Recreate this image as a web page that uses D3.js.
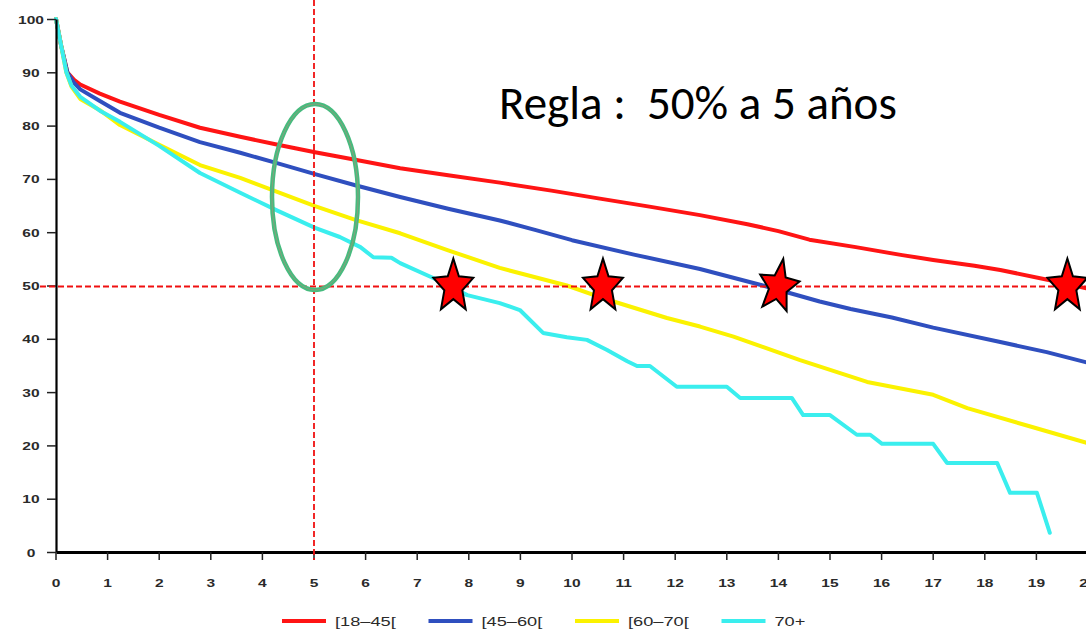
<!DOCTYPE html>
<html>
<head>
<meta charset="utf-8">
<script src="https://cdn.jsdelivr.net/npm/d3@7"></script>
<style>
  html, body { margin: 0; padding: 0; background: #fff; }
  svg { display: block; }
</style>
</head>
<body>
<svg id="chart" width="1086" height="633"></svg>
<script>
// Survival (%) by years since diagnosis, one curve per age group: [year, percent]
const group18_45 = [
  [0,100],[0.1,95],[0.22,90],[0.35,88.6],[0.47,87.7],[0.85,86.0],[1.24,84.5],[2.0,82.0],
  [2.79,79.6],[3.57,77.9],[4.3,76.4],[5.02,75.0],[5.8,73.6],[6.67,72.0],[7.6,70.7],
  [8.6,69.3],[9.6,67.8],[10.54,66.3],[11.5,64.8],[12.48,63.2],[13.4,61.5],[14.0,60.2],
  [14.6,58.6],[15.5,57.2],[16.4,55.7],[17.0,54.8],[17.8,53.7],[18.3,52.9],[19.26,51.0],[20.0,49.4]
];
const group45_60 = [
  [0,100],[0.1,95],[0.22,90],[0.35,88],[0.47,86.8],[0.85,84.6],[1.24,82.4],[2.0,79.6],
  [2.79,76.9],[3.57,74.9],[4.3,72.9],[5.02,70.9],[5.8,68.8],[6.67,66.6],[7.6,64.4],
  [8.6,62.2],[9.3,60.4],[10.0,58.5],[11.2,55.8],[12.48,53.1],[13.7,50.0],[14.8,47.0],
  [15.4,45.6],[16.2,44.0],[17.0,42.1],[18.3,39.4],[19.2,37.5],[20.0,35.5]
];
const group60_70 = [
  [0,100],[0.1,95],[0.2,90],[0.3,87.3],[0.47,85.0],[0.85,82.9],[1.24,80.1],[2.0,76.4],
  [2.79,72.6],[3.57,70.2],[4.3,67.5],[5.02,64.9],[5.8,62.3],[6.67,59.8],[7.6,56.6],
  [8.6,53.3],[9.9,50.0],[10.54,47.8],[11.84,43.9],[12.48,42.3],[13.13,40.4],[14.42,36.0],
  [15.72,31.9],[17.0,29.5],[17.66,27.0],[18.9,23.5],[20.0,20.4]
];
const group70plus = [
  [0,100],[0.1,95],[0.2,90],[0.3,87.5],[0.47,85.4],[0.85,82.8],[1.24,80.7],[2.0,76.2],
  [2.79,71.1],[3.57,67.4],[4.3,64.0],[5.02,60.8],[5.5,59.1],[5.9,57.2],[6.15,55.3],
  [6.5,55.2],[6.67,54.2],[7.31,51.4],[7.97,48.2],[8.6,46.7],[8.99,45.4],[9.44,41.1],
  [9.9,40.3],[10.29,39.8],[10.68,37.9],[11.07,35.8],[11.26,34.9],[11.51,34.9],[12.03,31.0],
  [13.0,31.0],[13.26,28.9],[14.26,28.9],[14.48,25.7],[15.0,25.7],[15.52,22.0],[15.78,22.0],
  [16.01,20.3],[17.0,20.3],[17.27,16.7],[18.24,16.7],[18.49,11.1],[19.01,11.1],[19.26,3.6]
];

const groupLabels = ["[18\u201345[", "[45\u201360[", "[60\u201370[", "70+"];
const groupColors = ["#ff1414", "#2f4fbf", "#fbf200", "#3aeeee"];
const yTicks = [0,10,20,30,40,50,60,70,80,90,100];
const xTicks = d3.range(0, 21);

// Years at which each curve reaches 50% (star markers)
const medianYears = [7.7, 10.6, 14.0, 19.6];
const medianLevel = 50;
const ruleYear = 5;
const ruleText = "Regla :  50% a 5 a\u00f1os";

const svg = d3.select("#chart");
const x = d3.scaleLinear().domain([0, 20]).range([56, 1088]);
const y = d3.scaleLinear().domain([0, 100]).range([552, 19]);
const stretch = 1.35;

// Curves
const line = d3.line().x(d => x(d[0])).y(d => y(d[1]));
const series = [group18_45, group45_60, group60_70, group70plus];
svg.append("g").selectAll("path").data(series).join("path")
  .attr("d", line)
  .attr("fill", "none")
  .attr("stroke", (d, i) => groupColors[i])
  .attr("stroke-width", 4)
  .attr("stroke-linejoin", "round")
  .attr("stroke-linecap", "round");

// Y axis
const yAxis = svg.append("g").attr("transform", `translate(${x(0)},0)`)
  .call(d3.axisLeft(y).tickValues(yTicks).tickSize(9).tickSizeOuter(0));
yAxis.select(".domain").attr("stroke", "#000").attr("stroke-width", 2.2);
yAxis.selectAll(".tick line").attr("stroke", "#222").attr("stroke-width", 1.5);
yAxis.selectAll(".tick text")
  .attr("x", -25 / stretch).attr("dy", "0.35em")
  .attr("text-anchor", "middle")
  .attr("transform", `scale(${stretch},1)`)
  .attr("font-family", "Liberation Sans, Arial, sans-serif")
  .attr("font-size", 11.5).attr("font-weight", "bold").attr("fill", "#2a2a2a");

// X axis
const xAxis = svg.append("g").attr("transform", `translate(0,${y(0)})`)
  .call(d3.axisBottom(x).tickValues(xTicks).tickSize(8).tickSizeOuter(0));
xAxis.select(".domain").attr("stroke", "#000").attr("stroke-width", 3.2);
xAxis.selectAll(".tick line").attr("stroke", "#222").attr("stroke-width", 1.5);
xAxis.selectAll(".tick text")
  .attr("y", 31).attr("dy", "0.35em")
  .attr("x", 0)
  .attr("font-family", "Liberation Sans, Arial, sans-serif")
  .attr("font-size", 11.5).attr("font-weight", "bold").attr("fill", "#2a2a2a");
xAxis.selectAll(".tick").each(function(d) {
  d3.select(this).attr("transform", `translate(${x(d)},0)`);
  d3.select(this).select("text").attr("transform", `scale(${stretch},1)`);
});

// Dashed guide lines at 5 years and 50%
svg.append("line")
  .attr("x1", x(ruleYear)).attr("x2", x(ruleYear))
  .attr("y1", 0).attr("y2", y(0) + 8)
  .attr("stroke", "#f01010").attr("stroke-width", 1.8)
  .attr("stroke-dasharray", "6,3");
svg.append("line")
  .attr("x1", 40).attr("x2", 1086)
  .attr("y1", y(medianLevel) + 1).attr("y2", y(medianLevel) + 1)
  .attr("stroke", "#f01010").attr("stroke-width", 1.8)
  .attr("stroke-dasharray", "6,3");

// Ellipse around the 5-year values
const ell = svg.append("g").attr("transform", `translate(${x(ruleYear) + 1},197)`);
ell.append("ellipse").attr("rx", 43).attr("ry", 93)
  .attr("fill", "none").attr("stroke", "#46bb7e").attr("stroke-width", 4.5);
ell.append("ellipse").attr("rx", 43).attr("ry", 93)
  .attr("fill", "none").attr("stroke", "#b98a7a").attr("stroke-width", 0.8).attr("opacity", 0.7);

// Star markers where each curve reaches 50%
function starPath(rx, ry, inner) {
  const pts = [];
  for (let k = 0; k < 10; k++) {
    const a = -Math.PI / 2 + k * Math.PI / 5;
    const f = k % 2 === 0 ? 1 : inner;
    pts.push([Math.cos(a) * rx * f, Math.sin(a) * ry * f]);
  }
  return "M" + pts.map(p => p.join(",")).join("L") + "Z";
}
svg.append("g").selectAll("path").data(medianYears).join("path")
  .attr("d", starPath(21, 28, 0.45))
  .attr("transform", (d, i) => `translate(${x(d)},${y(medianLevel) + 1}) rotate(${i === 2 ? 10 : 0})`)
  .attr("fill", "#ff0000")
  .attr("stroke", "#000")
  .attr("stroke-width", 2)
  .attr("stroke-linejoin", "miter");

// Rule text
svg.append("text")
  .attr("x", 499).attr("y", 119)
  .style("white-space", "pre")
  .attr("font-family", "Carlito, Calibri, Lato, sans-serif")
  .attr("font-size", 47)
  .attr("fill", "#000")
  .text(ruleText);

// Legend
const legend = svg.append("g").attr("transform", "translate(282,621)");
const item = legend.selectAll("g").data(groupLabels).join("g")
  .attr("transform", (d, i) => `translate(${i * 146.5},0)`);
item.append("line").attr("x1", 0).attr("x2", 44).attr("y1", 0).attr("y2", 0)
  .attr("stroke", (d, i) => groupColors[i]).attr("stroke-width", 4);
item.append("text")
  .attr("x", 53 / stretch).attr("y", 0).attr("dy", "0.36em")
  .attr("transform", `scale(${stretch},1)`)
  .attr("font-family", "Liberation Sans, Arial, sans-serif")
  .attr("font-size", 13.5).attr("fill", "#2a2a2a")
  .text(d => d);
</script>
</body>
</html>
